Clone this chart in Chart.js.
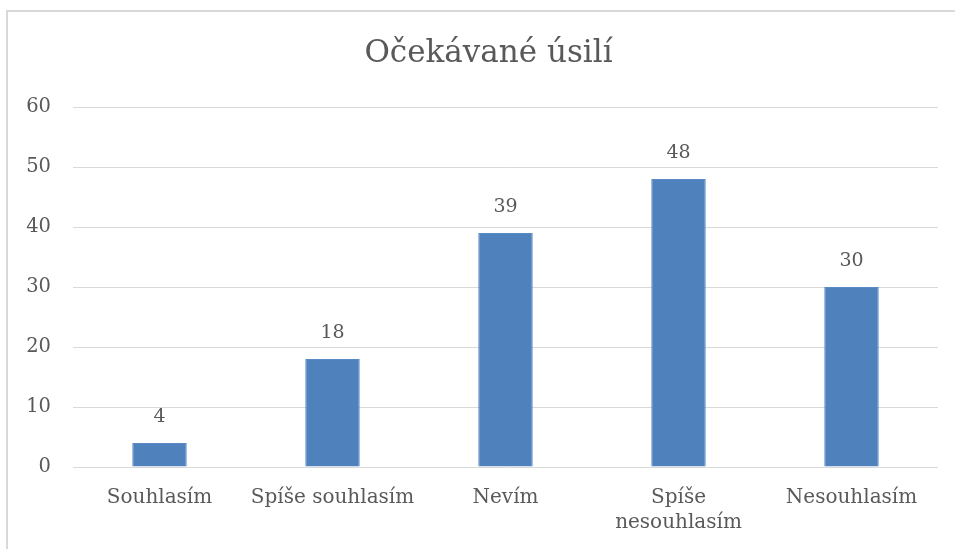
<!DOCTYPE html>
<html><head><meta charset="utf-8">
<script src="https://cdn.jsdelivr.net/npm/chart.js@4/dist/chart.umd.min.js"></script>
<style>
html,body{margin:0;padding:0;background:#fff;}
#wrap{position:relative;width:955px;height:549px;overflow:hidden;}
#frame{position:absolute;left:6px;top:10px;width:1000px;height:600px;border-left:2px solid #d9d9d9;border-top:2px solid #d9d9d9;}
canvas{position:absolute;left:0;top:0;}
</style></head>
<body>
<div id="wrap"><div id="frame"></div><canvas id="c" width="955" height="549"></canvas></div>
<script>
const categories = ['Souhlasím', 'Spíše souhlasím', 'Nevím', ['Spíše', 'nesouhlasím'], 'Nesouhlasím'];
const values = [4, 18, 39, 48, 30];
const yTicks = [0, 10, 20, 30, 40, 50, 60];
const titleText = 'Očekávané úsilí';

const FONT = '"DejaVu Serif", serif';
const TXT = '#595959';

const labelPlugin = {
  id: 'valLabels',
  afterDatasetsDraw(chart) {
    const ctx = chart.ctx;
    const meta = chart.getDatasetMeta(0);
    ctx.save();
    ctx.font = '19px ' + FONT;
    ctx.fillStyle = TXT;
    ctx.textAlign = 'center';
    ctx.textBaseline = 'middle';
    meta.data.forEach((bar, i) => {
      ctx.fillText(String(values[i]), bar.x, bar.y - 26);
    });
    ctx.restore();
  }
};

const titlePlugin = {
  id: 'customTitle',
  afterDraw(chart) {
    const ctx = chart.ctx;
    ctx.save();
    ctx.font = '31px ' + FONT;
    ctx.fillStyle = TXT;
    ctx.textAlign = 'center';
    ctx.textBaseline = 'middle';
    ctx.fillText(titleText, 488.5, 54);
    ctx.restore();
  }
};

new Chart(document.getElementById('c'), {
  type: 'bar',
  data: {
    labels: categories,
    datasets: [{
      data: values,
      backgroundColor: '#4F81BD',
      borderColor: '#5B8BC6',
      borderWidth: 1,
      barPercentage: 0.315,
      categoryPercentage: 1.0
    }]
  },
  options: {
    responsive: false,
    animation: false,
    layout: { padding: { left: 0, right: 17, top: 107, bottom: 0 } },
    plugins: {
      legend: { display: false },
      tooltip: { enabled: false },
      title: { display: false }
    },
    scales: {
      x: {
        grid: { display: false, drawTicks: false },
        border: { display: false },
        ticks: {
          color: TXT, font: { family: FONT, size: 20, lineHeight: 1.25 }, padding: 18,
          maxRotation: 0, autoSkip: false
        },
        afterFit(s) { s.height = 82; }
      },
      y: {
        min: 0, max: 60,
        afterBuildTicks(s) { s.ticks = yTicks.map(v => ({ value: v })); },
        grid: { color: '#d9d9d9', lineWidth: 1, drawTicks: false },
        border: { display: false },
        ticks: { color: TXT, font: { family: FONT, size: 19.5 }, padding: 22 },
        afterFit(s) { s.width = 73; }
      }
    }
  },
  plugins: [labelPlugin, titlePlugin]
});
</script>
</body></html>
